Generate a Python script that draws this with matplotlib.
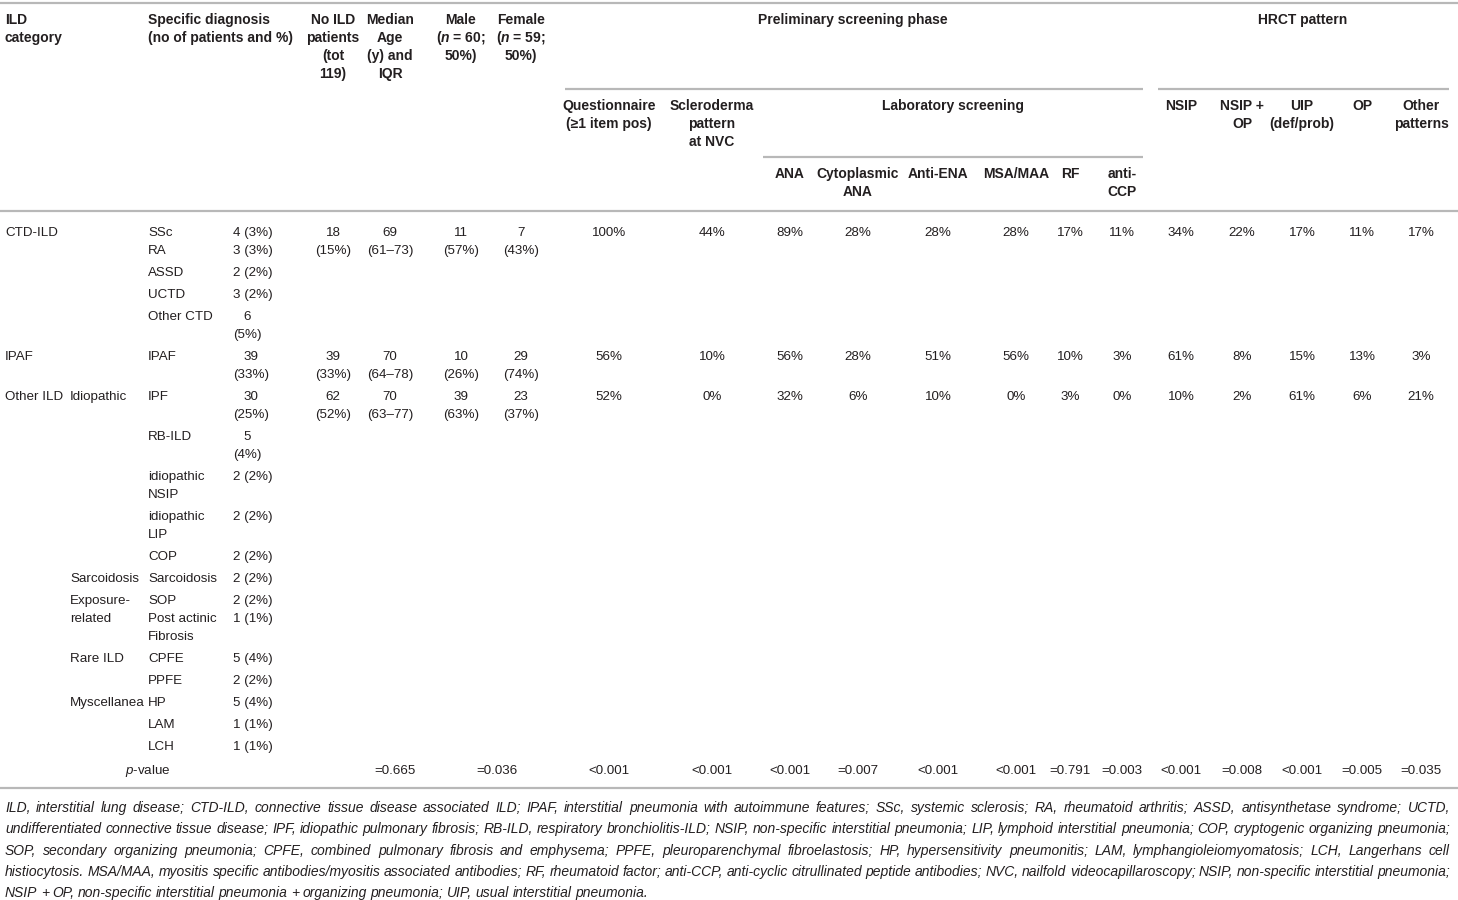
import matplotlib
matplotlib.use("Agg")
import matplotlib.pyplot as plt

plt.rcParams["font.family"] = ["Liberation Sans", "DejaVu Sans"]
plt.rcParams["mathtext.fontset"] = "custom"
plt.rcParams["mathtext.it"] = "Liberation Sans:italic"
plt.rcParams["mathtext.bfit"] = "Liberation Sans:italic:bold"
plt.rcParams["mathtext.rm"] = "Liberation Sans"

# ---- table data ----
row_category = ["CTD-ILD", "", "", "", "IPAF", "Other ILD", "", "", "", "", "", "", "", "", "", "", ""]
row_subgroup = ["", "", "", "", "", "Idiopathic", "", "", "", "", "Sarcoidosis", "Exposure-\nrelated",
                "Rare ILD", "", "Myscellanea", "", ""]
diagnosis = ["SSc\nRA", "ASSD", "UCTD", "Other CTD", "IPAF", "IPF", "RB-ILD", "idiopathic\nNSIP",
             "idiopathic\nLIP", "COP", "Sarcoidosis", "SOP\nPost actinic\nFibrosis", "CPFE", "PPFE",
             "HP", "LAM", "LCH"]
diagnosis_n = ["4 (3%)\n3 (3%)", "2 (2%)", "3 (2%)", "6\n(5%)", "39\n(33%)", "30\n(25%)", "5\n(4%)",
               "2 (2%)", "2 (2%)", "2 (2%)", "2 (2%)", "2 (2%)\n1 (1%)", "5 (4%)", "2 (2%)",
               "5 (4%)", "1 (1%)", "1 (1%)"]

groups = ["CTD-ILD", "IPAF", "Other ILD"]
n_ild = [18, 39, 62]
n_ild_pct = [15, 33, 52]
age_median = [69, 70, 70]
age_iqr = ["61–73", "64–78", "63–77"]
male_n = [11, 10, 39]
male_pct = [57, 26, 63]
female_n = [7, 29, 23]
female_pct = [43, 74, 37]

questionnaire = [100, 56, 52]
nvc_pattern = [44, 10, 0]
ana = [89, 56, 32]
cyto_ana = [28, 28, 6]
anti_ena = [28, 51, 10]
msa_maa = [28, 56, 0]
rf = [17, 10, 3]
anti_ccp = [11, 3, 0]
hrct_nsip = [34, 61, 10]
hrct_nsip_op = [22, 8, 2]
hrct_uip = [17, 15, 61]
hrct_op = [11, 13, 6]
hrct_other = [17, 3, 21]

p_age, p_sex = "=0.665", "=0.036"
p_screen = ["<0.001", "<0.001", "<0.001", "=0.007", "<0.001", "<0.001", "=0.791", "=0.003"]
p_hrct = ["<0.001", "=0.008", "<0.001", "=0.005", "=0.035"]

footnote = [
    "ILD, interstitial lung disease; CTD-ILD, connective tissue disease associated ILD; IPAF, interstitial pneumonia with autoimmune features; SSc, systemic sclerosis; RA, rheumatoid arthritis; ASSD, antisynthetase syndrome; UCTD,",
    "undifferentiated connective tissue disease; IPF, idiopathic pulmonary fibrosis; RB-ILD, respiratory bronchiolitis-ILD; NSIP, non-specific interstitial pneumonia; LIP, lymphoid interstitial pneumonia; COP, cryptogenic organizing pneumonia;",
    "SOP, secondary organizing pneumonia; CPFE, combined pulmonary fibrosis and emphysema; PPFE, pleuroparenchymal fibroelastosis; HP, hypersensitivity pneumonitis; LAM, lymphangioleiomyomatosis; LCH, Langerhans cell",
    "histiocytosis. MSA/MAA, myositis specific antibodies/myositis associated antibodies; RF, rheumatoid factor; anti-CCP, anti-cyclic citrullinated peptide antibodies; NVC, nailfold videocapillaroscopy; NSIP, non-specific interstitial pneumonia;",
    "NSIP + OP, non-specific interstitial pneumonia + organizing pneumonia; UIP, usual interstitial pneumonia.",
]

# ---- layout ----
W, H = 1458, 900
TXT = "#231f20"
RULE = "#b8b8b8"
FS = 10      # header size
BFS = 9.6    # body size
NFS = 10     # footnote size
LH = 18

fig = plt.figure(figsize=(W / 100, H / 100), dpi=100)
ax = fig.add_axes([0, 0, 1, 1])
ax.set_xlim(0, W)
ax.set_ylim(H, 0)
ax.axis("off")
renderer = fig.canvas.get_renderer()


def put(x, y, s, ha="center", bold=False, fs=BFS, style="normal"):
    objs = []
    for i, line in enumerate(s.split("\n")):
        objs.append(ax.text(x, y + i * LH, line, ha=ha, va="center", fontsize=fs, color=TXT,
                            fontweight="bold" if bold else "normal", fontstyle=style))
    return objs


def put_block(x, y, s):
    # left edge of the block at x, lines centred inside the block
    objs = put(x, y, s, ha="center")
    wmax = max(o.get_window_extent(renderer).width for o in objs)
    for o in objs:
        o.set_x(x + wmax / 2)


def head(x, y, s, ha="center"):
    put(x, y, s, ha=ha, bold=True, fs=FS)


def rule(y, x0=0, x1=W):
    ax.plot([x0, x1], [y, y], color=RULE, lw=1.6, solid_capstyle="butt")


# column centres
x_n, x_age, x_male, x_female = 333, 390, 461, 521
x_screen = [609, 712, 790, 858, 938, 1016, 1070, 1122]
x_hrct = [1181, 1242, 1302, 1362, 1421]

# rules
rule(3)
rule(89, 565, 1143)
rule(89, 1158, 1449)
rule(157, 763, 1143)
rule(211)
rule(788)

# header
hy = 20
head(5, hy, "ILD\ncategory", ha="left")
head(148, hy, "Specific diagnosis\n(no of patients and %)", ha="left")
head(x_n, hy, "No ILD\npatients\n(tot\n119)")
head(x_age, hy, "Median\nAge\n(y) and\nIQR")
head(x_male, hy, "Male\n($\\mathbfit{n}$ = 60;\n50%)")
head(x_female, hy, "Female\n($\\mathbfit{n}$ = 59;\n50%)")
head(853, hy, "Preliminary screening phase")
head(1303, hy, "HRCT pattern")
head(x_screen[0], 106, "Questionnaire\n(≥1 item pos)")
head(x_screen[1], 106, "Scleroderma\npattern\nat NVC")
head(953, 106, "Laboratory screening")
for x, s in zip(x_screen[2:], ["ANA", "Cytoplasmic\nANA", "Anti-ENA", "MSA/MAA", "RF", "anti-\nCCP"]):
    head(x, 174, s)
for x, s in zip(x_hrct, ["NSIP", "NSIP +\nOP", "UIP\n(def/prob)", "OP", "Other\npatterns"]):
    head(x, 106, s)

# body rows
y = 233
group_y = {}
for cat, sub, dx, dn in zip(row_category, row_subgroup, diagnosis, diagnosis_n):
    if cat:
        put(5, y, cat, ha="left")
        group_y[cat] = y
    if sub:
        put(70, y, sub, ha="left")
    put(148, y, dx, ha="left")
    put_block(233, y, dn)
    y += max(dx.count("\n"), dn.count("\n"), sub.count("\n")) * LH + LH + 4

for i, g in enumerate(groups):
    gy = group_y[g]
    put(x_n, gy, f"{n_ild[i]}\n({n_ild_pct[i]}%)")
    put(x_age, gy, f"{age_median[i]}\n({age_iqr[i]})")
    put(x_male, gy, f"{male_n[i]}\n({male_pct[i]}%)")
    put(x_female, gy, f"{female_n[i]}\n({female_pct[i]}%)")
    screen = [questionnaire, nvc_pattern, ana, cyto_ana, anti_ena, msa_maa, rf, anti_ccp]
    for x, col in zip(x_screen, screen):
        put(x, gy, f"{col[i]}%")
    hrct = [hrct_nsip, hrct_nsip_op, hrct_uip, hrct_op, hrct_other]
    for x, col in zip(x_hrct, hrct):
        put(x, gy, f"{col[i]}%")

# p-value row
py = y + 2
put(148, py, "$\\mathit{p}$-value")
put(395, py, p_age)
put(497, py, p_sex)
for x, p in zip(x_screen, p_screen):
    put(x, py, p)
for x, p in zip(x_hrct, p_hrct):
    put(x, py, p)

# footnote, justified
left, right = 5, 1450
for k, line in enumerate(footnote):
    fy = 808 + k * 21.3
    words = line.split(" ")
    objs = [ax.text(0, fy, w, ha="left", va="center", fontsize=NFS, color=TXT, fontstyle="italic")
            for w in words]
    widths = [o.get_window_extent(renderer).width for o in objs]
    space = 3.5
    if k < len(footnote) - 1:
        space = (right - left - sum(widths)) / (len(words) - 1)
    x = left
    for o, w in zip(objs, widths):
        o.set_x(x)
        x += w + space

fig.savefig("out.png", dpi=100)
